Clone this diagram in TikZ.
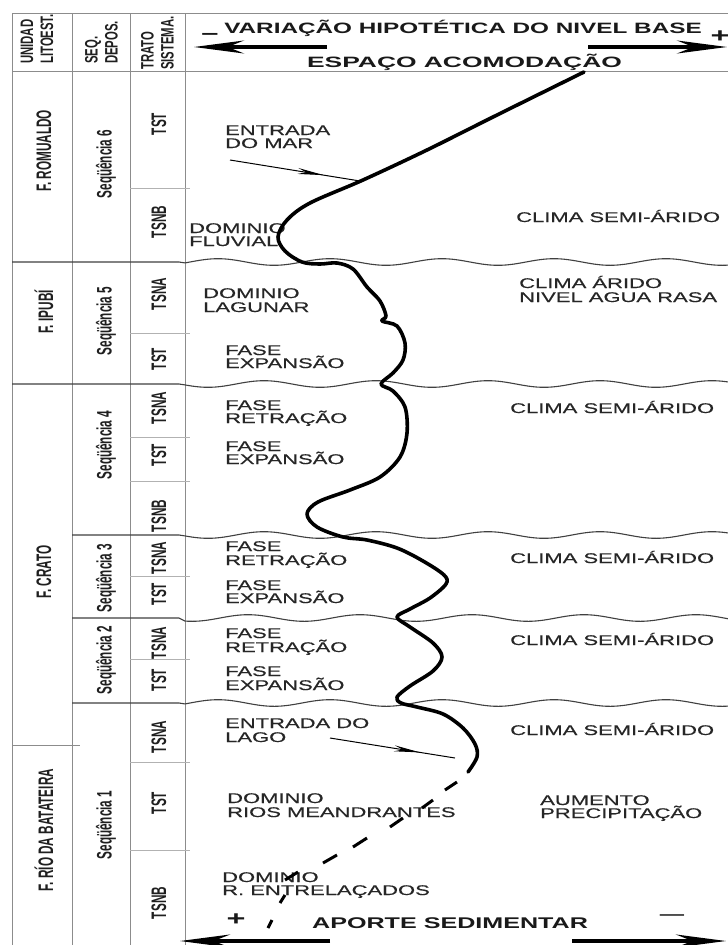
\documentclass[tikz,border=0pt]{standalone}
\usepackage{fontspec}
\setmainfont{Liberation Sans}
\newfontfamily\lblfont[FakeStretch=1.57,FakeBold=0.4]{Liberation Sans}
\newfontfamily\hdrfont[FakeStretch=1.62]{Liberation Sans}
\newfontfamily\hdrwfont[FakeStretch=1.76]{Liberation Sans}
\newfontfamily\rotfont[FakeStretch=0.56]{Liberation Sans}
\newfontfamily\hrotfont[FakeStretch=0.63]{Liberation Sans}
\usetikzlibrary{arrows.meta,decorations.markings}
\newcommand{\mywave}[3]{%
  \draw[wave] (#1,#2) -- (179,#2) -- plot[domain=185:728,samples=200] (\x,{#2-3.3*cos(3.2143*(\x-#3))});}
\begin{document}
\begin{tikzpicture}[x=1pt,y=-1pt,
  lbl/.style={font=\lblfont\fontsize{14}{13}\selectfont, text=black!85, inner sep=0pt, anchor=base west},
  hdr/.style={font=\hdrfont\bfseries\fontsize{15}{16}\selectfont, text=black!90, inner sep=0pt},
  rot/.style={font=\rotfont\bfseries\fontsize{21}{21}\selectfont, text=black!88, inner sep=0pt, rotate=90},
  hrot/.style={font=\hrotfont\bfseries\fontsize{18}{20}\selectfont, text=black!88, inner sep=0pt, rotate=90, align=left, anchor=west},
  grid/.style={draw=black!45, line width=0.9pt},
  tract/.style={draw=black!30, line width=0.8pt},
  wave/.style={draw=black!75, line width=1.1pt},
  curve/.style={line width=3.6pt, line cap=round, line join=round},
  dashseg/.style={line width=3pt},
  bigarrow/.style={line width=3.8pt, -{Stealth[length=50pt,width=13pt]}},
  midarrow/.style={line width=1pt, postaction={decorate}, decoration={markings, mark=at position #1 with {\arrow{Stealth[length=26pt,width=6pt]}}}}
]
\useasboundingbox (0,0) rectangle (728,945);
\fill[white] (0,0) rectangle (728,945);

% frame and columns
\draw[grid] (12,13) -- (728,13);
\draw[grid] (12,71) -- (728,71);
\draw[grid] (12,13) -- (12,945);
\draw[grid] (72,13) -- (72,945);
\draw[grid] (130,13) -- (130,945);
\draw[grid] (185,13) -- (185,945);

% tract boundaries
\foreach \yy in {188,333,437,481,576,659,762,850}
  \draw[tract] (130,\yy) -- (190,\yy);
% unit boundary
\draw[grid] (12,745) -- (80,745);

% sequence boundaries (wavy)
\mywave{12}{262}{330}
\mywave{12}{384}{376}
\mywave{72}{535}{376}
\mywave{72}{618}{360}
\mywave{72}{703}{330}

% header
\node[hrot] (hunid) at (37,64) {UNIDAD\\LITOEST.};
\node[hrot] (hseq) at (101.5,64) {SEQ.\\DEPOS.};
\node[hrot] (htrat) at (157.5,70) {TRATO\\SISTEMA.};
\node[hdr, anchor=base] (hvar) at (463,33.5) {VARIAÇÃO HIPOTÉTICA DO NIVEL BASE};
\node[hdr, font=\hdrfont\bfseries\fontsize{19}{19}\selectfont] (hminus) at (210,36) {–};
\node[hdr, font=\hdrfont\bfseries\fontsize{20}{20}\selectfont] (hplus) at (720,37) {+};
\node[hdr, anchor=base, font=\hdrwfont\bfseries\fontsize{15}{16}\selectfont] (hesp) at (464.5,67) {ESPAÇO ACOMODAÇÃO};
\coordinate (tl1) at (327,47); \coordinate (tl2) at (194,47);
\coordinate (tr1) at (588,47); \coordinate (tr2) at (727,47);
\draw[bigarrow] (tl1) -- (tl2);
\draw[bigarrow] (tr1) -- (tr2);

% column 1
\node[rot] (u1) at (44,151) {F. ROMUALDO};
\node[rot] (u2) at (44,312) {F. IPUBÍ};
\node[rot] (u3) at (44,572) {F. CRATO};
\node[rot] (u4) at (44,830) {F. RÍO DA BATATEIRA};
% column 2
\node[rot] (s6) at (106,164) {Seqüência 6};
\node[rot] (s5) at (106,321) {Seqüência 5};
\node[rot] (s4) at (106,445) {Seqüência 4};
\node[rot] (s3) at (106,578) {Seqüência 3};
\node[rot] (s2) at (106,660) {Seqüência 2};
\node[rot] (s1) at (106,825) {Seqüência 1};
% column 3
\node[rot] (t61) at (159,124) {TST};
\node[rot] (t62) at (159,222) {TSNB};
\node[rot] (t51) at (159,294) {TSNA};
\node[rot] (t52) at (159,359) {TST};
\node[rot] (t41) at (159,408) {TSNA};
\node[rot] (t42) at (159,455) {TST};
\node[rot] (t43) at (159,516) {TSNB};
\node[rot] (t31) at (159,558) {TSNA};
\node[rot] (t32) at (159,594) {TST};
\node[rot] (t21) at (159,643) {TSNA};
\node[rot] (t22) at (159,680) {TST};
\node[rot] (t11) at (159,737) {TSNA};
\node[rot] (t12) at (159,803) {TST};
\node[rot] (t13) at (159,903) {TSNB};

% labels
\node[lbl] (mar1) at (225,135) {ENTRADA};
\node[lbl] (mar2) at (225,148) {DO MAR};
\node[lbl] (flu1) at (189,233) {DOMINIO};
\node[lbl] (flu2) at (189,246) {FLUVIAL};
\node[lbl] (cl6) at (516,222) {CLIMA SEMI-ÁRIDO};
\node[lbl] (lag1) at (203,298) {DOMINIO};
\node[lbl] (lag2) at (203,312) {LAGUNAR};
\node[lbl] (cl5a) at (519,288) {CLIMA ÁRIDO};
\node[lbl] (cl5b) at (519,302) {NIVEL AGUA RASA};
\node[lbl] (fe5a) at (225,355) {FASE};
\node[lbl] (fe5b) at (225,368) {EXPANSÃO};
\node[lbl] (fr4a) at (225,410) {FASE};
\node[lbl] (fr4b) at (225,423) {RETRAÇÃO};
\node[lbl] (cl4) at (510,413) {CLIMA SEMI-ÁRIDO};
\node[lbl] (fe4a) at (225,451) {FASE};
\node[lbl] (fe4b) at (225,464) {EXPANSÃO};
\node[lbl] (fr3a) at (225,551) {FASE};
\node[lbl] (fr3b) at (225,565) {RETRAÇÃO};
\node[lbl] (cl3) at (510,563) {CLIMA SEMI-ÁRIDO};
\node[lbl] (fe3a) at (225,590) {FASE};
\node[lbl] (fe3b) at (225,603) {EXPANSÃO};
\node[lbl] (fr2a) at (225,638) {FASE};
\node[lbl] (fr2b) at (225,652) {RETRAÇÃO};
\node[lbl] (cl2) at (510,645) {CLIMA SEMI-ÁRIDO};
\node[lbl] (fe2a) at (225,676) {FASE};
\node[lbl] (fe2b) at (225,690) {EXPANSÃO};
\node[lbl] (lago1) at (225,728) {ENTRADA DO};
\node[lbl] (lago2) at (225,742) {LAGO};
\node[lbl] (cl1) at (510,735) {CLIMA SEMI-ÁRIDO};
\node[lbl] (mea1) at (227,803) {DOMINIO};
\node[lbl] (mea2) at (227,817) {RIOS MEANDRANTES};
\node[lbl] (pre1) at (540,805) {AUMENTO};
\node[lbl] (pre2) at (540,818) {PRECIPITAÇÃO};
\node[lbl] (ent1) at (222,882) {DOMINIO};
\node[lbl] (ent2) at (222,895) {R. ENTRELAÇADOS};

% arrows to curve
\coordinate (marT) at (230,160); \coordinate (marH) at (360,181);
\draw[midarrow=0.72] (marT) -- (marH);
\coordinate (lagT) at (330,738); \coordinate (lagH) at (455,758);
\draw[midarrow=0.72] (lagT) -- (lagH);

% main curve
\draw[curve] plot[smooth, tension=0.55] coordinates {(584,72) (493,117) (427,150) (363,180) (310,203) (287,220) (278,237) (285,251) (302,262) (320,264) (337,263) (353,269) (367,287) (380,301) (386,316) (382,321) (397,326) (405,343) (403,360) (393,373) (381,384) (393,391) (405,407) (407,433) (400,457) (380,477) (350,490) (318,502) (307,514) (317,527) (343,537) (367,540) (397,548) (423,561) (444,575) (446,584) (430,598) (410,609) (397,617) (410,627) (433,643) (442,657) (433,671) (410,686) (397,697) (401,703) (417,707) (443,714) (463,728) (475,744) (477,757) (468,772)};

% dashed continuation
\draw[dashseg] (457,782) -- (445,790);
\draw[dashseg] (433,800) -- (422,808);
\draw[dashseg] (403,818) -- (390,827);
\draw[dashseg] (367,838) -- (353,847);
\draw[dashseg] (337,855) -- (323,863);
\draw[dashseg] (298,872) -- (285,880);
\draw[dashseg] (285,895) -- (280,903);
\draw[dashseg] (272,920) -- (268,928);

% bottom
\node[hdr, font=\hdrfont\bfseries\fontsize{20}{20}\selectfont] (bplus) at (236,920) {+};
\node[hdr, anchor=base west, font=\hdrfont\bfseries\fontsize{15.5}{17}\selectfont] (bap) at (312,928) {APORTE SEDIMENTAR};
\node[hdr] (bminus) at (672,917) {—};
\coordinate (bl1) at (330,941); \coordinate (bl2) at (180,941);
\coordinate (br1) at (572,941); \coordinate (br2) at (726,941);
\draw[bigarrow] (bl1) -- (bl2);
\draw[bigarrow] (br1) -- (br2);
\end{tikzpicture}
\end{document}
